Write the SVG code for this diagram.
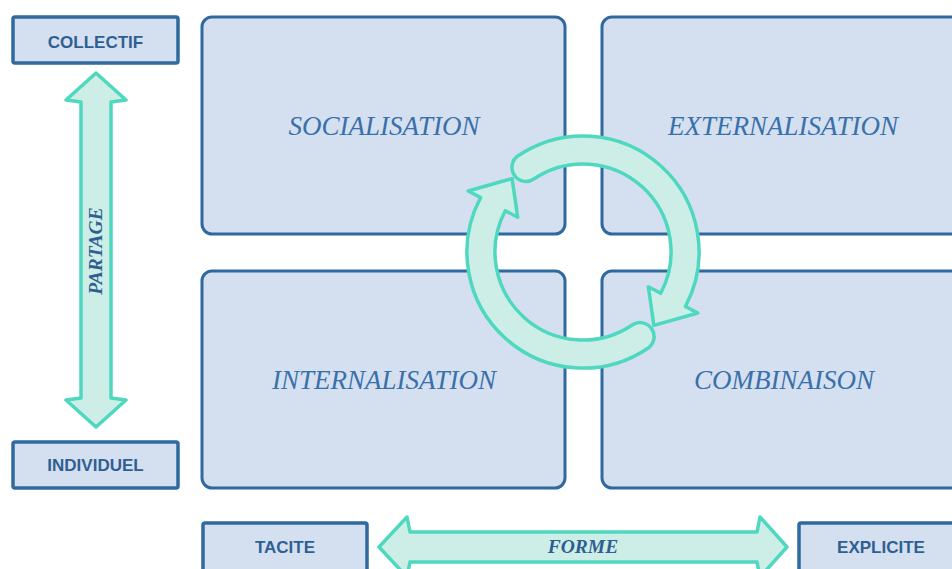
<svg xmlns="http://www.w3.org/2000/svg" width="952" height="569" viewBox="0 0 952 569">
<style>
.box{fill:#d4e0f0;stroke:#2f6a9f;stroke-width:3}
.lbl{fill:#d4e0f0;stroke:#2f6a9f;stroke-width:3.5}
.q{font-family:"Liberation Serif",serif;font-style:italic;font-size:27px;fill:#3a70aa;text-anchor:middle}
.t{font-family:"Liberation Sans",sans-serif;font-weight:bold;font-size:17px;fill:#2f5f92;text-anchor:middle}
.a{fill:#cdeee6;stroke:#4fd8c0;stroke-width:3.5;stroke-linejoin:round}
.at{font-family:"Liberation Serif",serif;font-style:italic;font-weight:bold;font-size:19.5px;fill:#2f5f92;text-anchor:middle}
</style>
<rect width="952" height="569" fill="#ffffff"/>
<g id="socialisation"><rect class="box" x="202" y="17" width="363" height="217" rx="10"/><text class="q" x="384" y="135">SOCIALISATION</text></g>
<g id="externalisation"><rect class="box" x="602" y="17" width="363" height="217" rx="10"/><text class="q" x="783" y="135">EXTERNALISATION</text></g>
<g id="internalisation"><rect class="box" x="202" y="271" width="363" height="217" rx="10"/><text class="q" x="384" y="389">INTERNALISATION</text></g>
<g id="combinaison"><rect class="box" x="602" y="271" width="363" height="217" rx="10"/><text class="q" x="784" y="389">COMBINAISON</text></g>
<g id="collectif"><rect class="lbl" x="13" y="17" width="165" height="46" rx="2"/><text class="t" x="95.5" y="48">COLLECTIF</text></g>
<g id="individuel"><rect class="lbl" x="13" y="442" width="165" height="46" rx="2"/><text class="t" x="95.5" y="471">INDIVIDUEL</text></g>
<g id="tacite"><rect class="lbl" x="203" y="523" width="164" height="50" rx="2"/><text class="t" x="285" y="553">TACITE</text></g>
<g id="explicite"><rect class="lbl" x="799" y="523" width="164" height="50" rx="2"/><text class="t" x="881" y="553">EXPLICITE</text></g>
<g id="connectors">
<g id="partage"><path class="a" d="M96,73 L126,100 L111,102 L111,398 L126,400 L96,427 L66,400 L81,398 L81,102 L66,100 Z"/><text class="at" transform="translate(102,251) rotate(-90)">PARTAGE</text></g>
<g id="forme"><path class="a" d="M379,547 L407,517 L410,532 L757,532 L760,517 L787,547 L760,577 L757,562 L410,562 L407,577 Z"/><text class="at" x="583" y="553">FORME</text></g>
<g id="cycle">
<path id="arc1" class="a" d="M518.1,155.8 A116,116 0 0 1 685.4,306.5 L697.8,313 L653.9,325.4 L648.3,286.7 L660.7,293.3 A88,88 0 0 0 533.8,179 A14,14 0 0 1 518.1,155.8 Z"/>
<use href="#arc1" transform="rotate(180 583 252)"/>
</g>
</g>
</svg>
